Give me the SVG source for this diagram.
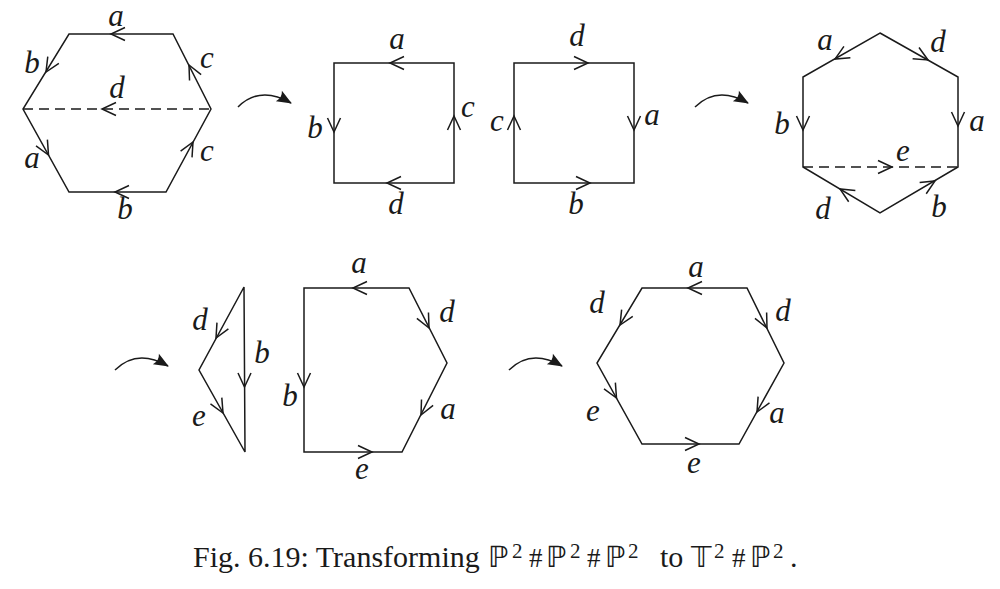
<svg xmlns="http://www.w3.org/2000/svg" xmlns:xlink="http://www.w3.org/1999/xlink" width="1000" height="589" viewBox="0 0 1000 589">
<style>
.e{fill:none;stroke:#1a1a1a;stroke-width:1.5;stroke-linejoin:miter}
.dash{fill:none;stroke:#1a1a1a;stroke-width:1.5;stroke-dasharray:10 6}
.ch{fill:none;stroke:#1a1a1a;stroke-width:1.5}
.lb{font-family:"Liberation Serif","Times New Roman",serif;font-style:italic;font-size:31px;fill:#1a1a1a;text-anchor:middle}
.bend{fill:none;stroke:#1a1a1a;stroke-width:1.5;marker-end:url(#fa)}
.cap{font-family:"Liberation Serif","Times New Roman",serif;font-size:30px;fill:#1a1a1a}
.bb{font-family:"DejaVu Sans","Noto Sans",sans-serif;font-size:29px}
.sp{font-size:21px}
.hs{font-size:27px}
</style>
<defs>
<path id="chev" d="M-14,-6.5 L0,0 L-14,6.5"/>
<marker id="fa" markerUnits="userSpaceOnUse" markerWidth="20" markerHeight="20" refX="0" refY="0" viewBox="-16 -10 20 20" orient="auto">
<path d="M1,0 L-14,-6 Q-10,0 -14,6 Z" fill="#1a1a1a"/>
</marker>
</defs>

<g id="hex1">
<polygon class="e" points="69,34 173,34 211,109 166,192 69,192 23,109"/>
<line class="dash" x1="23" y1="109" x2="211" y2="109"/>
<use href="#chev" class="ch" transform="translate(111,34) rotate(180)"/>
<use href="#chev" class="ch" transform="translate(46,72) rotate(121.5)"/>
<use href="#chev" class="ch" transform="translate(189,65) rotate(-116.9)"/>
<use href="#chev" class="ch" transform="translate(102,109) rotate(180)"/>
<use href="#chev" class="ch" transform="translate(48.5,155) rotate(61)"/>
<use href="#chev" class="ch" transform="translate(193,142) rotate(-61.5)"/>
<use href="#chev" class="ch" transform="translate(115,192) rotate(180)"/>
<text class="lb" x="116" y="26">a</text>
<text class="lb" x="32" y="73">b</text>
<text class="lb" x="207" y="68">c</text>
<text class="lb" x="117" y="98">d</text>
<text class="lb" x="32" y="168">a</text>
<text class="lb" x="207" y="161">c</text>
<text class="lb" x="125" y="219">b</text>
</g>

<g id="square1">
<rect class="e" x="334" y="63" width="120" height="120"/>
<use href="#chev" class="ch" transform="translate(390,63) rotate(180)"/>
<use href="#chev" class="ch" transform="translate(334,132) rotate(90)"/>
<use href="#chev" class="ch" transform="translate(454,116) rotate(-90)"/>
<use href="#chev" class="ch" transform="translate(387,183) rotate(180)"/>
<text class="lb" x="397" y="49">a</text>
<text class="lb" x="315" y="138">b</text>
<text class="lb" x="468" y="117">c</text>
<text class="lb" x="396" y="214">d</text>
</g>

<g id="square2">
<rect class="e" x="514" y="63" width="120" height="120"/>
<use href="#chev" class="ch" transform="translate(588,63)"/>
<use href="#chev" class="ch" transform="translate(634,130) rotate(90)"/>
<use href="#chev" class="ch" transform="translate(514,116) rotate(-90)"/>
<use href="#chev" class="ch" transform="translate(590,183)"/>
<text class="lb" x="577" y="46">d</text>
<text class="lb" x="652" y="125">a</text>
<text class="lb" x="497" y="131">c</text>
<text class="lb" x="576" y="214">b</text>
</g>

<g id="hex3">
<polygon class="e" points="880,33 958,77 958,167 880,213 803,167 803,77"/>
<line class="dash" x1="803" y1="167" x2="963" y2="167"/>
<use href="#chev" class="ch" transform="translate(835,59) rotate(150.3)"/>
<use href="#chev" class="ch" transform="translate(928,60) rotate(29.4)"/>
<use href="#chev" class="ch" transform="translate(958,126) rotate(90)"/>
<use href="#chev" class="ch" transform="translate(803,130) rotate(90)"/>
<use href="#chev" class="ch" transform="translate(892,167)"/>
<use href="#chev" class="ch" transform="translate(840,189) rotate(-149.1)"/>
<use href="#chev" class="ch" transform="translate(935,181) rotate(-30.5)"/>
<text class="lb" x="825" y="50">a</text>
<text class="lb" x="938" y="52">d</text>
<text class="lb" x="782" y="134">b</text>
<text class="lb" x="977" y="131">a</text>
<text class="lb" x="903" y="161">e</text>
<text class="lb" x="823" y="219">d</text>
<text class="lb" x="939" y="217">b</text>
</g>

<g id="triangle">
<polygon class="e" points="244,287 199,370 245,452"/>
<use href="#chev" class="ch" transform="translate(216,338) rotate(118.5)"/>
<use href="#chev" class="ch" transform="translate(244.5,387) rotate(90)"/>
<use href="#chev" class="ch" transform="translate(223,413) rotate(60.7)"/>
<text class="lb" x="200" y="330">d</text>
<text class="lb" x="262" y="363">b</text>
<text class="lb" x="199" y="426">e</text>
</g>

<g id="pentagon">
<polygon class="e" points="304,288 409,288 447,363 402,452 304,452"/>
<use href="#chev" class="ch" transform="translate(353,288) rotate(180)"/>
<use href="#chev" class="ch" transform="translate(429,328) rotate(63.1)"/>
<use href="#chev" class="ch" transform="translate(421,415) rotate(116.8)"/>
<use href="#chev" class="ch" transform="translate(304,387) rotate(90)"/>
<use href="#chev" class="ch" transform="translate(372,452)"/>
<text class="lb" x="359" y="273">a</text>
<text class="lb" x="447" y="322">d</text>
<text class="lb" x="448" y="419">a</text>
<text class="lb" x="290" y="406">b</text>
<text class="lb" x="362" y="479">e</text>
</g>

<g id="hex5">
<polygon class="e" points="642,288 747,288 784,363 739,444 642,444 597,363"/>
<use href="#chev" class="ch" transform="translate(688,288) rotate(180)"/>
<use href="#chev" class="ch" transform="translate(620,325) rotate(121)"/>
<use href="#chev" class="ch" transform="translate(767,328) rotate(63.7)"/>
<use href="#chev" class="ch" transform="translate(616.5,398) rotate(60.9)"/>
<use href="#chev" class="ch" transform="translate(757,412) rotate(119)"/>
<use href="#chev" class="ch" transform="translate(699,444)"/>
<text class="lb" x="696" y="277">a</text>
<text class="lb" x="597" y="313">d</text>
<text class="lb" x="783" y="321">d</text>
<text class="lb" x="593" y="421">e</text>
<text class="lb" x="777" y="423">a</text>
<text class="lb" x="694" y="473">e</text>
</g>

<g id="connectors">
<path class="bend" d="M238,107 Q260,85 291,103"/>
<path class="bend" d="M695,107 Q717,85 748,103"/>
<path class="bend" d="M115,370 Q137,348 168,366"/>
<path class="bend" d="M509,370 Q531,348 562,366"/>
</g>

<g id="caption">
<text class="cap" y="567"><tspan x="193">Fig. 6.19: Transforming</tspan><tspan class="bb" x="488">ℙ</tspan><tspan class="sp" x="512" y="558">2</tspan><tspan class="hs" x="529" y="567">#</tspan><tspan class="bb" x="546">ℙ</tspan><tspan class="sp" x="570" y="558">2</tspan><tspan class="hs" x="587" y="567">#</tspan><tspan class="bb" x="605">ℙ</tspan><tspan class="sp" x="628" y="558">2</tspan><tspan x="660" y="567">to</tspan><tspan class="bb" x="691">𝕋</tspan><tspan class="sp" x="714" y="558">2</tspan><tspan class="hs" x="732" y="567">#</tspan><tspan class="bb" x="750">ℙ</tspan><tspan class="sp" x="773" y="558">2</tspan><tspan x="790" y="567">.</tspan></text>
</g>
</svg>
